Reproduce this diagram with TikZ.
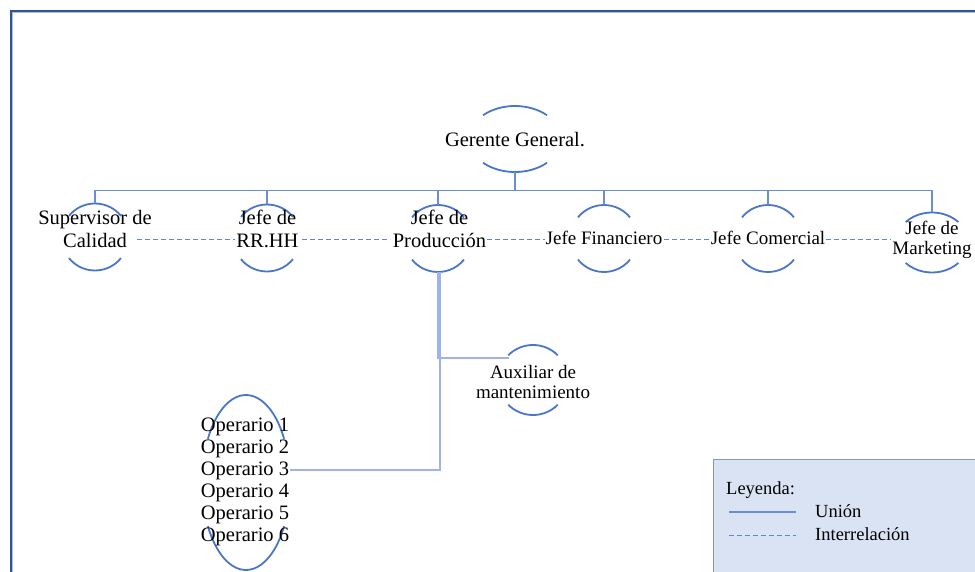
\documentclass[tikz,border=0pt]{standalone}
\usepackage{fontspec}
\setmainfont{Liberation Serif}
\usetikzlibrary{calc}
\definecolor{arcblue}{HTML}{4A76C8}
\definecolor{linkblue}{HTML}{6A8DD4}
\definecolor{paleblue}{HTML}{9DB4E8}
\definecolor{dashblue}{HTML}{5F86D2}
\definecolor{framedark}{HTML}{2F5597}
\definecolor{framelight}{HTML}{A9BCE2}
\definecolor{legendfill}{HTML}{DAE3F3}
\definecolor{legendedge}{HTML}{8497B0}
% top and bottom arcs of an oval: centre, x radius, y radius, start angle
\newcommand\ovalarcs[4]{%
  \draw[arcline] (#1) ++(#4:#2 and #3) arc[start angle=#4, end angle=180-#4, x radius=#2, y radius=#3];
  \draw[arcline] (#1) ++(-#4:#2 and #3) arc[start angle=-#4, end angle=-180+#4, x radius=#2, y radius=#3];
}
\tikzset{
  arcline/.style={arcblue, line width=1.8pt},
  link/.style={linkblue, line width=1.5pt},
  sublink/.style={paleblue, line width=1.5pt},
  relation/.style={dashblue, line width=0.9pt, dash pattern=on 5pt off 3pt},
  bigtxt/.style={inner sep=1pt, align=center, font=\fontsize{20.5}{23}\selectfont},
  smalltxt/.style={inner sep=1pt, align=center, font=\fontsize{19}{20}\selectfont},
  legtxt/.style={inner sep=0pt, anchor=west, font=\fontsize{18.5}{21}\selectfont},
}
\begin{document}
\begin{tikzpicture}[x=1pt, y=-1pt]
\useasboundingbox (0,0) rectangle (975,572);

% page frame
\draw[framedark, line width=1.8pt] (11,590) -- (11,11) -- (990,11);
\draw[framelight, line width=0.6pt] (12.2,590) -- (12.2,12.2) -- (990,12.2);

% oval centres
\coordinate (ggc)   at (515,139);
\coordinate (supc)  at (95,237);
\coordinate (rrhhc) at (267,238);
\coordinate (prodc) at (438,238.5);
\coordinate (finc)  at (604,238.5);
\coordinate (comc)  at (768,238.5);
\coordinate (mktc)  at (932,242.5);
\coordinate (auxc)  at (533,380);
\coordinate (opsc)  at (246,482.5);

% oval arcs
\ovalarcs{ggc}{46}{33}{46}
\ovalarcs{supc}{33.5}{33.5}{39}
\ovalarcs{rrhhc}{33.5}{33.5}{39}
\ovalarcs{prodc}{33.5}{33.5}{39}
\ovalarcs{finc}{33.5}{33.5}{39}
\ovalarcs{comc}{33.5}{33.5}{39}
\ovalarcs{mktc}{36}{30}{43}
\ovalarcs{auxc}{35}{35}{45}
\ovalarcs{opsc}{44}{87.5}{30}

% attachment points on the ovals
\coordinate (ggbot)   at ($(ggc)+(0,33)$);
\coordinate (suptop)  at ($(supc)+(0,-33.5)$);
\coordinate (rrhhtop) at ($(rrhhc)+(0,-33.5)$);
\coordinate (prodtop) at ($(prodc)+(0,-33.5)$);
\coordinate (prodbot) at ($(prodc)+(0,33.5)$);
\coordinate (fintop)  at ($(finc)+(0,-33.5)$);
\coordinate (comtop)  at ($(comc)+(0,-33.5)$);
\coordinate (mkttop)  at ($(mktc)+(0,-30)$);
\coordinate (auxleft) at (508.5,358);
\coordinate (opsright) at (290,470);
\coordinate (bus) at (515,190.5);
\coordinate (lvl) at (0,239);

% labels
\node[bigtxt] (gg) at (515,140) {Gerente General.};
\node[bigtxt] (sup) at (95,228.5) {Supervisor de\\Calidad};
\node[bigtxt] (rrhh) at (267.5,228.5) {Jefe de\\RR.HH};
\node[bigtxt] (prod) at (439.5,228.5) {Jefe de\\Producción};
\node[smalltxt] (fin) at (604,238) {Jefe Financiero};
\node[smalltxt] (com) at (768,238) {Jefe Comercial};
\node[smalltxt] (mkt) at (932,240) {Jefe de\\Marketing};
\node[smalltxt] (aux) at (533,382) {Auxiliar de\\mantenimiento};
\node[inner sep=1pt, align=left, font=\fontsize{20.5}{22}\selectfont] (ops) at (245,482)
  {Operario 1\\Operario 2\\Operario 3\\Operario 4\\Operario 5\\Operario 6};

% hierarchy links
\draw[link] (ggbot) -- (bus);
\draw[link] (bus) -| (suptop);
\draw[link] (bus) -| (rrhhtop);
\draw[link] (bus) -| (prodtop);
\draw[link] (bus) -| (fintop);
\draw[link] (bus) -| (comtop);
\draw[link] (bus) -| (mkttop);
\draw[sublink] (prodbot) |- (auxleft);
\draw[sublink] ([xshift=2pt]prodbot) |- (opsright);

% interrelations
\draw[relation] ([xshift=-16pt]sup.east |- lvl) -- (rrhh.west |- lvl);
\draw[relation] ([xshift=2pt]rrhh.east |- lvl) -- ([xshift=-3pt]prod.west |- lvl);
\draw[relation] (prod.east |- lvl) -- (fin.west |- lvl);
\draw[relation] (fin.east |- lvl) -- (com.west |- lvl);
\draw[relation] (com.east |- lvl) -- (mkt.west |- lvl);

% legend
\node[draw=legendedge, fill=legendfill, line width=0.8pt, minimum width=280pt, minimum height=130pt,
  anchor=north west, inner sep=0pt] (legend) at (713,459) {};
\node[legtxt] (legtitle) at (726,490) {Leyenda:};
\node[legtxt] (legunion) at (815,511) {Unión};
\node[legtxt] (legrel) at (815,534) {Interrelación};
\coordinate (ls1) at (729,512);
\coordinate (ls2) at (796,512);
\coordinate (ld1) at (729,535);
\coordinate (ld2) at (796,535);
\draw[link, line width=1.2pt] (ls1) -- (ls2);
\draw[relation] (ld1) -- (ld2);
\end{tikzpicture}
\end{document}
